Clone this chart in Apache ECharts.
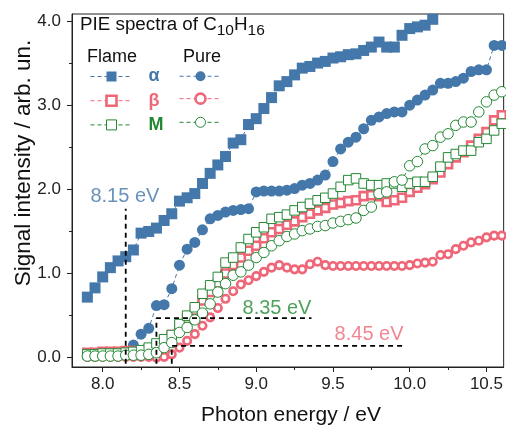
<!DOCTYPE html>
<html>
<head>
<meta charset="utf-8">
<script src="https://cdn.jsdelivr.net/npm/echarts@6/dist/echarts.min.js"></script>
<style>
html,body{margin:0;padding:0;background:#fff;}
#chart{width:506px;height:428px;}
</style>
</head>
<body>
<div id="chart"></div>
<script>
// ---------- data ----------
const energy = [7.90,7.95,8.00,8.05,8.10,8.15,8.20,8.25,8.30,8.35,8.40,8.45,8.50,8.55,8.60,8.65,8.70,8.75,8.80,8.85,8.90,8.95,9.00,9.05,9.10,9.15,9.20,9.25,9.30,9.35,9.40,9.45,9.50,9.55,9.60,9.65,9.70,9.75,9.80,9.85,9.90,9.95,10.00,10.05,10.10,10.15,10.20,10.25,10.30,10.35,10.40,10.45,10.50,10.55,10.60];

const flameAlpha = [0.72,0.83,0.96,1.07,1.15,1.20,1.28,1.48,1.50,1.54,1.63,1.71,1.86,1.90,1.95,2.07,2.19,2.29,2.39,2.55,2.59,2.77,2.84,2.96,3.09,3.23,3.28,3.36,3.44,3.46,3.50,3.52,3.56,3.575,3.60,3.61,3.65,3.69,3.75,3.69,3.69,3.83,3.91,3.93,3.95,4.02];
const pureAlpha = [0.02,0.02,0.03,0.03,0.04,0.07,0.15,0.28,0.35,0.62,0.63,0.82,1.10,1.29,1.37,1.52,1.65,1.69,1.73,1.75,1.76,1.77,1.97,1.98,1.98,1.98,1.99,2.01,2.05,2.07,2.11,2.17,2.33,2.48,2.56,2.62,2.72,2.82,2.86,2.90,2.92,2.92,3.00,3.06,3.12,3.18,3.26,3.26,3.28,3.32,3.40,3.42,3.42,3.71,3.71];
const flameBeta = [0.06,0.06,0.07,0.07,0.07,0.08,0.08,0.08,0.10,0.14,0.20,0.27,0.36,0.46,0.56,0.68,0.78,0.88,1.00,1.10,1.19,1.27,1.33,1.42,1.49,1.53,1.58,1.62,1.67,1.71,1.75,1.78,1.82,1.84,1.86,1.87,1.92,1.93,1.92,1.85,1.87,1.90,1.97,2.02,2.06,2.12,2.20,2.30,2.38,2.44,2.52,2.60,2.68,2.82,2.88];
const pureBeta = [0.01,0.01,0.01,0.01,0.01,0.01,0.01,0.01,0.01,0.00,0.01,0.04,0.12,0.20,0.28,0.38,0.48,0.59,0.70,0.79,0.87,0.92,0.97,1.02,1.07,1.10,1.07,1.05,1.05,1.11,1.14,1.10,1.09,1.09,1.09,1.09,1.09,1.09,1.09,1.09,1.09,1.09,1.10,1.12,1.13,1.14,1.22,1.23,1.29,1.33,1.37,1.39,1.43,1.45,1.45];
const flameM = [0.04,0.04,0.05,0.05,0.05,0.06,0.07,0.09,0.12,0.17,0.22,0.27,0.40,0.50,0.60,0.76,0.86,0.96,1.13,1.19,1.31,1.41,1.49,1.55,1.65,1.67,1.70,1.75,1.79,1.83,1.87,1.90,1.95,2.03,2.11,2.13,2.07,2.05,2.05,2.07,2.07,2.03,2.07,2.09,2.09,2.15,2.27,2.38,2.42,2.46,2.46,2.56,2.60,2.70,2.78];
const pureM = [0.02,0.02,0.02,0.02,0.02,0.03,0.03,0.03,0.04,0.06,0.12,0.18,0.30,0.36,0.45,0.53,0.64,0.78,0.88,0.98,1.02,1.10,1.19,1.25,1.33,1.39,1.44,1.47,1.51,1.53,1.56,1.57,1.60,1.62,1.64,1.66,1.75,1.79,1.95,1.97,2.09,2.11,2.28,2.33,2.48,2.52,2.62,2.66,2.76,2.80,2.80,2.92,3.04,3.12,3.16];

// onset thresholds (eV), height of their dashed markers, and where the horizontal guide ends
const onsetEnergy = [8.15, 8.35, 8.45];
const onsetTop = [1.77, 0.47, 0.14];
const onsetGuideEnd = [null, 9.36, 9.96];
const onsetLabels = ['8.15 eV', '8.35 eV', '8.45 eV'];
const onsetLabelPos = [[7.92, 1.91], [9.36, 0.58], [9.96, 0.28]];

const xTicks = [8.0, 8.5, 9.0, 9.5, 10.0, 10.5];
const xMinorTicks = [8.25, 8.75, 9.25, 9.75, 10.25];
const yTicks = [0.0, 1.0, 2.0, 3.0, 4.0];
const yMinorTicks = [0.5, 1.5, 2.5, 3.5];

const isomerLabels = ['α', 'β', 'M'];
const flameNames = ['Flame α', 'Flame β', 'Flame M'];
const pureNames = ['Pure α', 'Pure β', 'Pure M'];

// ---------- style ----------
const FONT = '"Liberation Sans", Arial, Helvetica, sans-serif';
const BLUE = '#4477AA', RED = '#EE6677', GREEN = '#228833';
const colors = [BLUE, RED, GREEN];
const AX = '#222';
const XMIN = 7.8, XMAX = 10.612, YMIN = -0.11, YMAX = 4.083;
const BASE = -0.07;

function pairs(xs, ys) { return ys.map((y, i) => [xs[i], y]); }

const dash = [4, 3];
function dataSeries(name, ys, symbol, size, color, hollow, bw, z) {
  return {
    name: name, type: 'line', data: pairs(energy, ys),
    symbol: symbol, symbolSize: size, showSymbol: true,
    lineStyle: { color: color, width: 1, type: dash },
    itemStyle: hollow ? { color: '#fff', borderColor: color, borderWidth: bw } : { color: color, borderWidth: 0 },
    emphasis: { disabled: true }, animation: false, z: z
  };
}

const series = [
  dataSeries('Pure α', pureAlpha, 'circle', 11, BLUE, false, 0, 2),
  dataSeries('Flame α', flameAlpha, 'rect', 11, BLUE, false, 0, 2),
  dataSeries('Pure β', pureBeta, 'circle', 7.5, RED, true, 2.6, 3),
  dataSeries('Flame β', flameBeta, 'rect', 8, RED, true, 2.6, 3),
  dataSeries('Flame M', flameM, 'rect', 9.5, GREEN, true, 1, 4),
  dataSeries('Pure M', pureM, 'circle', 10.5, GREEN, true, 1, 4)
];

// dashed onset markers
onsetEnergy.forEach((e, i) => {
  const pts = [[e, BASE], [e, onsetTop[i]]];
  if (onsetGuideEnd[i] !== null) pts.push([onsetGuideEnd[i], onsetTop[i]]);
  series.push({
    type: 'line', data: pts, symbol: 'none', silent: true, animation: false, z: 6,
    lineStyle: { color: '#000', width: 1.8, type: [5, 4] }
  });
});

// onset labels
series.push({
  type: 'scatter', symbolSize: 0, silent: true, animation: false, z: 7,
  data: onsetLabelPos.map((p, i) => ({
    value: p,
    label: {
      show: true, position: 'inside', formatter: onsetLabels[i],
      align: i === 0 ? 'left' : 'right', verticalAlign: 'middle',
      color: [BLUE, GREEN, RED][i], fontSize: 20, fontFamily: FONT
    }
  }))
});

const chart = echarts.init(document.getElementById('chart'), null, { renderer: 'canvas' });

chart.setOption({
  backgroundColor: '#fff',
  animation: false,
  grid: { left: 72, top: 14, right: 1, bottom: 61, show: true, borderColor: AX, borderWidth: 1, backgroundColor: 'transparent' },
  xAxis: [
    {
      type: 'value', min: XMIN, max: XMAX, position: 'bottom',
      axisLine: { show: true, onZero: false, lineStyle: { color: AX, width: 1 } },
      axisTick: { show: true, customValues: xTicks, length: 5, lineStyle: { color: AX } },
      axisLabel: { customValues: xTicks, formatter: v => v.toFixed(1), fontSize: 17, color: AX, fontFamily: FONT, margin: 9 },
      splitLine: { show: false }
    },
    {
      type: 'value', min: XMIN, max: XMAX, position: 'bottom',
      axisLine: { show: false, onZero: false },
      axisTick: { show: true, customValues: xMinorTicks, length: 3, lineStyle: { color: AX } },
      axisLabel: { show: false },
      splitLine: { show: false }
    }
  ],
  yAxis: [
    {
      type: 'value', min: YMIN, max: YMAX, position: 'left',
      axisLine: { show: true, onZero: false, lineStyle: { color: AX, width: 1 } },
      axisTick: { show: true, customValues: yTicks, length: 5, lineStyle: { color: AX } },
      axisLabel: { customValues: yTicks, formatter: v => v.toFixed(1), fontSize: 17, color: AX, fontFamily: FONT, margin: 11 },
      splitLine: { show: false }
    },
    {
      type: 'value', min: YMIN, max: YMAX, position: 'left',
      axisLine: { show: false, onZero: false },
      axisTick: { show: true, customValues: yMinorTicks, length: 3, lineStyle: { color: AX } },
      axisLabel: { show: false },
      splitLine: { show: false }
    }
  ],
  legend: [
    {
      data: flameNames.map((n, i) => ({ name: n, textStyle: { color: colors[i] } })),
      orient: 'vertical', left: 90, top: 67.5, padding: 0,
      itemWidth: 42, itemHeight: 12.5, itemGap: 6.2, selectedMode: false,
      formatter: n => isomerLabels[flameNames.indexOf(n)],
      textStyle: { fontSize: 18, fontWeight: 'bold', fontFamily: FONT, padding: [0, 0, 0, 11] },
      itemStyle: { borderWidth: 'inherit' },
      lineStyle: { width: 'inherit', type: 'inherit' }
    },
    {
      data: pureNames,
      orient: 'vertical', left: 179, top: 70, padding: 0,
      itemWidth: 42, itemHeight: 12.5, itemGap: 11.1, selectedMode: false,
      formatter: () => '',
      itemStyle: { borderWidth: 'inherit' },
      lineStyle: { width: 'inherit', type: 'inherit' }
    }
  ],
  graphic: [
    {
      type: 'text', left: 80, top: 15, z: 10,
      style: {
        text: 'PIE spectra of C{s|10}H{s|16}',
        fontSize: 18.8, fontFamily: FONT, fill: '#111',
        rich: { s: { fontSize: 15.5, fontFamily: FONT, padding: [12, 0, 0, 0] } }
      }
    },
    { type: 'text', left: 87, top: 48, z: 10, style: { text: 'Flame', fontSize: 18, fontFamily: FONT, fill: '#111' } },
    { type: 'text', left: 183, top: 48, z: 10, style: { text: 'Pure', fontSize: 18, fontFamily: FONT, fill: '#111' } },
    {
      type: 'text', x: 24, y: 163, rotation: Math.PI / 2, z: 10,
      style: { text: 'Signal intensity / arb. un.', fontSize: 22.5, fontFamily: FONT, fill: '#111',
               align: 'center', verticalAlign: 'middle', textAlign: 'center', textVerticalAlign: 'middle' }
    },
    {
      type: 'text', x: 291, y: 415, z: 10,
      style: { text: 'Photon energy / eV', fontSize: 21, fontFamily: FONT, fill: '#111',
               align: 'center', verticalAlign: 'middle', textAlign: 'center', textVerticalAlign: 'middle' }
    }
  ],
  series: series
});
</script>
</body>
</html>
